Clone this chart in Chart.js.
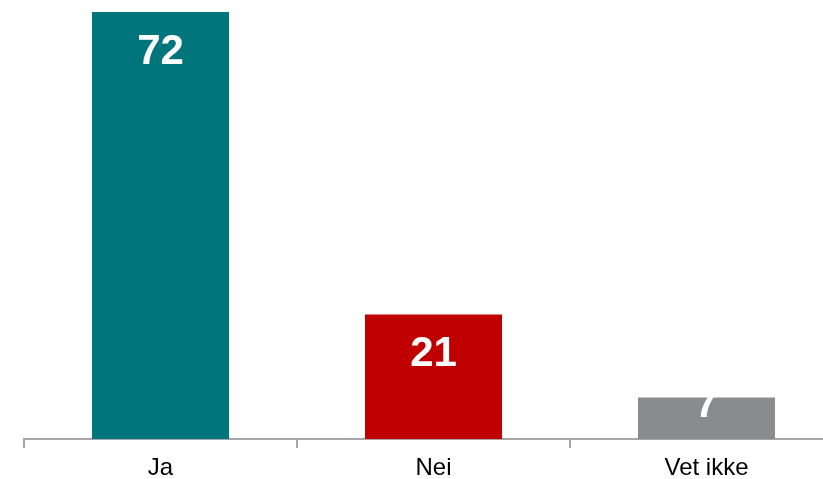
<!DOCTYPE html>
<html>
<head>
<meta charset="utf-8">
<script src="https://cdn.jsdelivr.net/npm/chart.js@4/dist/chart.umd.min.js"></script>
<style>
  html, body { margin: 0; padding: 0; background: #fff; overflow: hidden; }
  #wrap { width: 823px; height: 479px; overflow: hidden; }
</style>
</head>
<body>
<div id="wrap"><canvas id="chart" width="843" height="479"></canvas></div>
<script>
const categories = ['Ja', 'Nei', 'Vet ikke'];
const values = [72, 21, 7];
const barColors = ['#00757C', '#C00000', '#898B8E'];

// white value labels inside the top of each bar
const valueLabels = {
  id: 'valueLabels',
  afterDatasetsDraw(chart) {
    const c = chart.ctx;
    const meta = chart.getDatasetMeta(0);
    c.save();
    c.fillStyle = '#ffffff';
    c.font = 'bold 42px "Liberation Sans", Arial, sans-serif';
    c.textAlign = 'center';
    c.textBaseline = 'alphabetic';
    meta.data.forEach((bar, i) => {
      const y = Math.min(bar.y + 52, bar.base - 22);
      c.fillText(String(values[i]), bar.x, y);
    });
    c.restore();
  }
};

const ctx = document.getElementById('chart').getContext('2d');
new Chart(ctx, {
  type: 'bar',
  data: {
    labels: categories,
    datasets: [{
      data: values,
      backgroundColor: barColors,
      borderWidth: 0,
      categoryPercentage: 1,
      barPercentage: 0.502
    }]
  },
  options: {
    responsive: false,
    animation: false,
    layout: { padding: { left: 24, top: 12, right: 0, bottom: 0 } },
    plugins: {
      legend: { display: false },
      tooltip: { enabled: false }
    },
    scales: {
      y: { display: false, min: 0, max: 72 },
      x: {
        offset: true,
        afterFit(scale) { scale.height = 40; },
        grid: {
          offset: true,
          drawOnChartArea: false,
          drawTicks: true,
          tickLength: 9,
          color: '#A6A6A6',
          lineWidth: 2
        },
        border: { display: true, color: '#A6A6A6', width: 2 },
        ticks: {
          color: '#000000',
          padding: 6,
          font: { family: '"Liberation Sans", Arial, sans-serif', size: 24 }
        }
      }
    }
  },
  plugins: [valueLabels]
});
</script>
</body>
</html>
